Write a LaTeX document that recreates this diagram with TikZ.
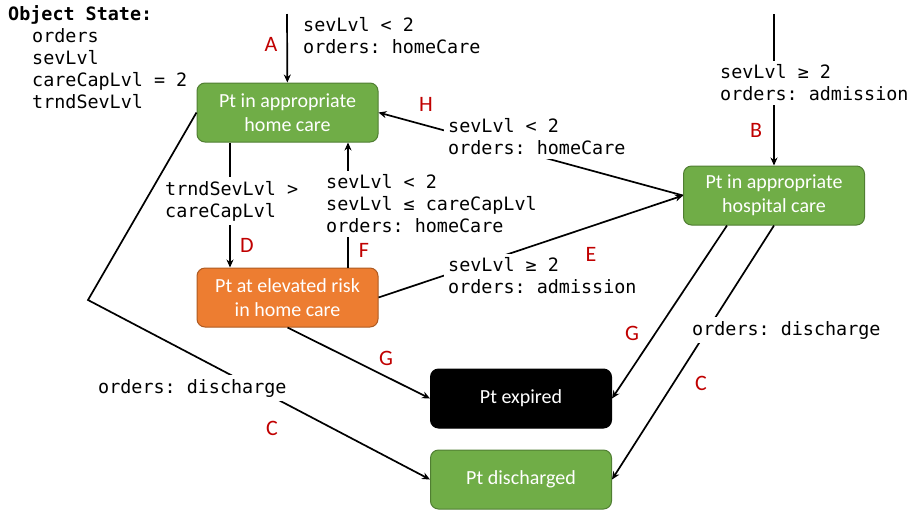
\documentclass[tikz,border=0pt]{standalone}
\usepackage{fontspec}
\setmainfont{Carlito}
\setmonofont{DejaVu Sans Mono}
\usetikzlibrary{arrows.meta}
\definecolor{okgreen}{HTML}{70AD47}
\definecolor{okgreenline}{HTML}{507E32}
\definecolor{riskorange}{HTML}{ED7D31}
\definecolor{riskorangeline}{HTML}{AE5A21}
\definecolor{tagred}{HTML}{C00000}
\tikzset{
  state/.style={rounded corners=8pt,minimum width=181pt,minimum height=59pt,
    align=center,text=white,line width=1pt,font=\fontsize{20}{24}\selectfont},
  cond/.style={anchor=west,align=left,fill=white,inner sep=4pt,
    font=\ttfamily\fontsize{18.4}{22}\selectfont},
  tag/.style={text=tagred,font=\fontsize{22}{26}\selectfont}
}
\begin{document}
\begin{tikzpicture}[x=1pt,y=-1pt,>={Stealth[length=8pt,width=7pt]}]
\useasboundingbox (0,0) rectangle (917,512);
\node[state,fill=okgreen,draw=okgreenline] (home) at (287.5,112.5) {Pt in appropriate\\home care};
\node[state,fill=okgreen,draw=okgreenline] (hospital) at (774,195.5) {Pt in appropriate\\hospital care};
\node[state,fill=riskorange,draw=riskorangeline] (elevated) at (287.5,297.5) {Pt at elevated risk\\in home care};
\node[state,fill=black,draw=black] (expired) at (521,398.5) {Pt expired};
\node[state,fill=okgreen,draw=okgreenline] (discharged) at (521,479.5) {Pt discharged};
\coordinate (startA) at (287,14);
\coordinate (startB) at (774,14);
\coordinate (bend) at (88,300);
\begin{scope}[line width=1.7pt]
\draw[->] (startA) -- (home);
\draw[->] (startB) -- (hospital);
\draw[->] (hospital.west) -- (home.east);
\draw[->] (elevated.east) -- (hospital.west);
\draw[->] ([xshift=-57.5pt]home.south) -- ([xshift=-57.5pt]elevated.north);
\draw[->] ([xshift=60.5pt]elevated.north) -- ([xshift=60.5pt]home.south);
\draw[->] (home.west) -- (bend) -- (discharged.west);
\draw[->] (elevated.south) -- (expired.west);
\draw[->] ([xshift=-47pt]hospital.south) -- (expired.east);
\draw[->] (hospital.south) -- (discharged.east);
\end{scope}
\node[anchor=north west,align=left,inner sep=0pt,font=\ttfamily\fontsize{18.4}{22}\selectfont] (objstate) at (8,5)
  {\textbf{Object State:}\\\hspace*{24pt}orders\\\hspace*{24pt}sevLvl\\\hspace*{24pt}careCapLvl = 2\\\hspace*{24pt}trndSevLvl};
\node[cond] (condA) at (299,36) {sevLvl < 2\\orders: homeCare};
\node[cond] (condB) at (716,83) {sevLvl ≥ 2\\orders: admission};
\node[cond] (condH) at (444,137) {sevLvl < 2\\orders: homeCare};
\node[cond] (condD) at (161,201) {trndSevLvl >\\careCapLvl};
\node[cond] (condF) at (322,204) {sevLvl < 2\\sevLvl ≤ careCapLvl\\orders: homeCare};
\node[cond] (condE) at (444,276) {sevLvl ≥ 2\\orders: admission};
\node[cond] (condC1) at (94,388) {orders: discharge};
\node[cond] (condC2) at (688,330) {orders: discharge};
\node[tag] (tagA) at (271,44) {A};
\node[tag] (tagH) at (426,104) {H};
\node[tag] (tagB) at (756,130) {B};
\node[tag] (tagD) at (247,245) {D};
\node[tag] (tagF) at (364,250) {F};
\node[tag] (tagE) at (591,254) {E};
\node[tag] (tagG1) at (386,358) {G};
\node[tag] (tagG2) at (632,333) {G};
\node[tag] (tagC1) at (272,428) {C};
\node[tag] (tagC2) at (701,383) {C};
\end{tikzpicture}
\end{document}
